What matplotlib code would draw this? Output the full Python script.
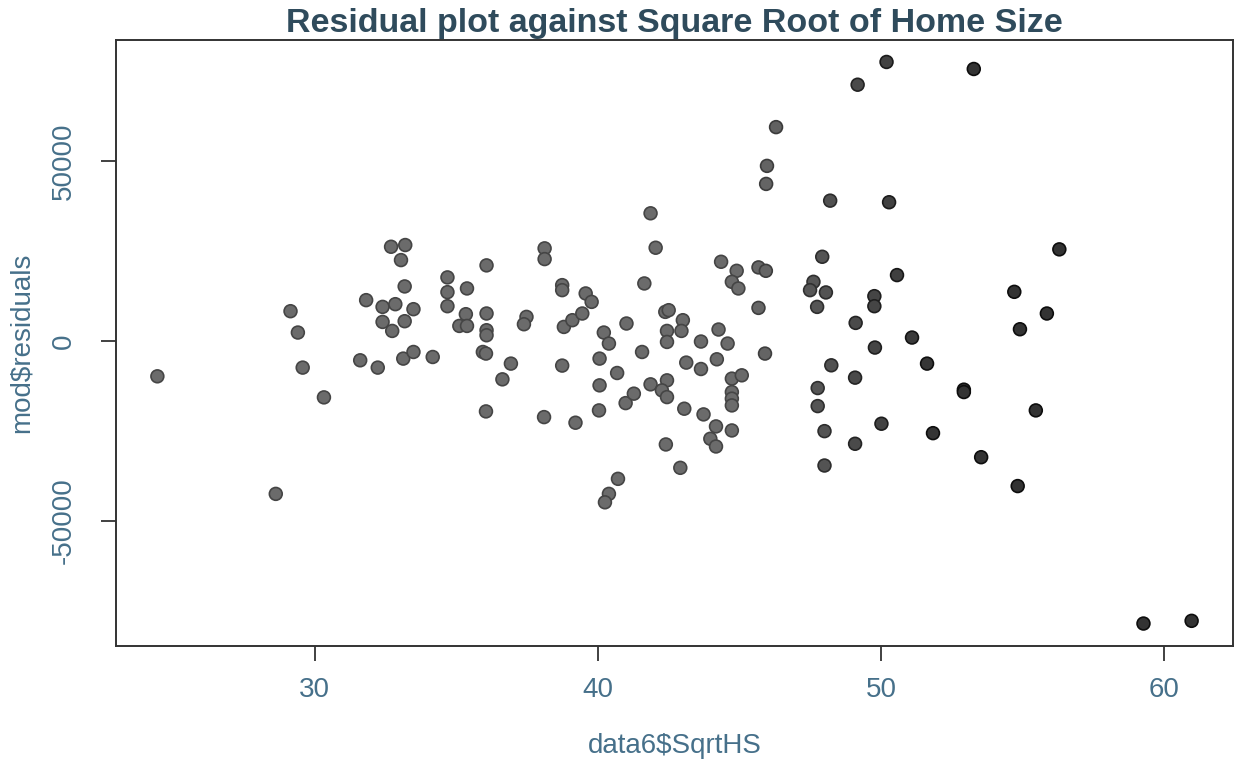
import numpy as np
import matplotlib.pyplot as plt

# residuals from the home price model vs sqrt(home size)
sqrt_hs = [
    24.45, 29.15, 29.41, 29.58, 30.33, 31.82, 32.70, 33.20, 33.05, 33.18,
    32.40, 32.85, 33.49, 32.40, 32.74, 33.18, 31.61, 32.23, 33.13, 33.49,
    34.17, 34.69, 34.69, 34.69, 35.38, 35.34, 35.11, 35.38, 36.07, 36.07,
    36.07, 36.07, 35.94, 36.05, 36.93, 36.63, 36.05, 45.94, 48.20, 50.28,
    41.86, 42.04, 38.12, 38.12, 44.35, 44.90, 45.67, 45.93, 44.73, 44.96,
    47.92, 50.56, 38.74, 38.74, 39.57, 39.78, 41.64, 47.61, 47.49, 48.05,
    47.74, 49.76, 49.76, 45.67, 37.48, 37.39, 38.80, 39.10, 39.45, 42.38,
    42.50, 43.00, 42.95, 40.21, 40.39, 41.01, 42.44, 42.44, 44.26, 43.64,
    44.58, 49.10, 51.09, 49.78, 45.90, 38.74, 40.06, 41.56, 43.12, 43.64,
    44.20, 44.73, 45.08, 44.73, 44.73, 44.73, 40.68, 40.06, 41.86, 42.44,
    42.26, 42.44, 40.98, 41.27, 40.04, 38.10, 39.21, 43.05, 43.73, 44.17,
    44.73, 43.97, 44.17, 42.40, 42.91, 40.71, 47.76, 47.76, 48.00, 48.00,
    48.24, 49.08, 49.08, 50.01, 56.29, 54.70, 55.85, 54.90, 51.62, 52.92,
    52.92, 55.46, 51.83, 53.53, 54.82, 50.19, 53.27, 49.17, 46.29, 45.97,
    28.63, 40.39, 40.25, 59.26, 60.96,
]
residuals = [
    -9880, 8210, 2280, -7460, -15730, 11280, 26110, 26590, 22410, 15090,
    9410, 10160, 8770, 5230, 2730, 5430, -5430, -7460, -4960, -3120,
    -4510, 17600, 13500, 9600, 14530, 7380, 4120, 4120, 20940, 7570,
    2920, 1530, -3120, -3560, -6350, -10720, -19630, 43570, 38920, 38480,
    35410, 25840, 25670, 22690, 21940, 19430, 20380, 19430, 16370, 14530,
    23330, 18240, 15450, 14060, 13140, 10800, 15920, 16370, 14060, 13420,
    9410, 12390, 9600, 9130, 6630, 4590, 3840, 5710, 7570, 8020,
    8490, 5710, 2730, 2280, -780, 4790, 2730, -330, 3120, -220,
    -780, 4960, 890, -1890, -3560, -6900, -4960, -3120, -6070, -7850,
    -5150, -10520, -9600, -14250, -16090, -17960, -8960, -12390, -12110, -11000,
    -13780, -15650, -17320, -14700, -19350, -21210, -22770, -18880, -20460, -23800,
    -24920, -27230, -29370, -28810, -35300, -38360, -13140, -18150, -25110, -34660,
    -6820, -10250, -28620, -23050, 25390, 13590, 7570, 3200, -6350, -13590,
    -14250, -19350, -25670, -32350, -40370, 77450, 75500, 71130, 59350, 48580,
    -42540, -42540, -44880, -78560, -77810,
]

x_ticks = [30, 40, 50, 60]
y_ticks = [-50000, 0, 50000]

x = np.array(sqrt_hs)
y = np.array(residuals)

plt.rcParams['font.family'] = ['Liberation Sans', 'DejaVu Sans']
lab_col = '#46708a'
axis_col = '#333333'

fig = plt.figure(figsize=(12.36, 7.64), dpi=100)
ax = fig.add_axes([116 / 1236, 1 - 646 / 764, 1117 / 1236, 606.5 / 764])

# points get darker toward the right
grey = np.interp(x, [45, 52], [0.42, 0.2])
face = np.stack([grey, grey, grey], axis=1)
edge = np.clip(face - 0.15, 0, 1)
ax.scatter(x, y, s=85, c=face, edgecolors=edge, linewidths=1.2, zorder=3)

# R style axis range: data range plus 4% each side
def r_lim(v):
    pad = 0.04 * (v.max() - v.min())
    return v.min() - pad, v.max() + pad

ax.set_xlim(*r_lim(x))
ax.set_ylim(*r_lim(y))

ax.set_xticks(x_ticks)
ax.set_xticklabels([str(t) for t in x_ticks])
ax.set_yticks(y_ticks)
ax.set_yticklabels([str(t) for t in y_ticks], rotation=90, va='center')

ax.tick_params(axis='both', direction='out', length=11, width=1.3,
               colors=axis_col, labelsize=20, labelcolor=lab_col)
ax.tick_params(axis='x', pad=11)
ax.tick_params(axis='y', pad=17)

for sp in ax.spines.values():
    sp.set_color(axis_col)
    sp.set_linewidth(1.4)

ax.set_title('Residual plot against Square Root of Home Size',
             fontsize=24.5, fontweight='bold', color='#2f4b5c', pad=2)
ax.set_xlabel('data6$SqrtHS', fontsize=20, color=lab_col, labelpad=22)
ax.set_ylabel('mod$residuals', fontsize=20, color=lab_col, labelpad=12)

fig.savefig('out.png', dpi=100, facecolor='white')
